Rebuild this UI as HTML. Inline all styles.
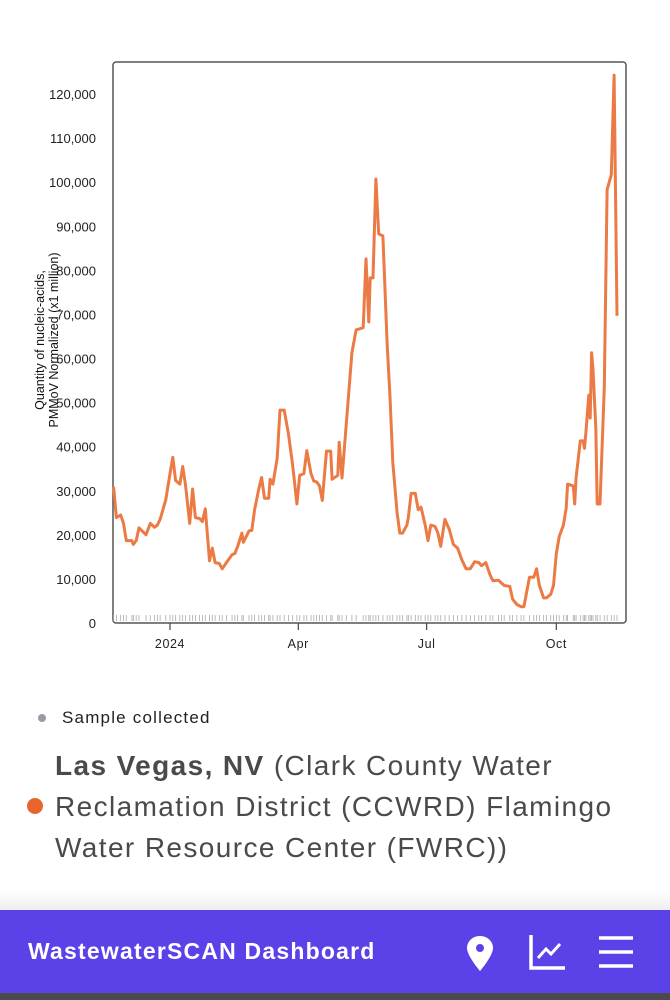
<!DOCTYPE html>
<html><head><meta charset="utf-8"><style>
body{margin:0;width:670px;height:1000px;background:#fff;font-family:"Liberation Sans",sans-serif;overflow:hidden;position:relative}
.abs{position:absolute}
</style></head><body>
<svg class="abs" style="left:0;top:0" width="670" height="700">
<g id="g"></g>
</svg>
<div class="abs" style="left:38px;top:714px;width:8px;height:8px;border-radius:50%;background:#9a9aa6"></div>
<div class="abs" style="left:62px;top:708px;font-size:17px;letter-spacing:1.2px;color:#222">Sample collected</div>
<div class="abs" style="left:27px;top:798px;width:16px;height:16px;border-radius:50%;background:#e8652c"></div>
<div class="abs" style="left:55px;top:745px;width:615px;font-size:28px;letter-spacing:1.4px;line-height:41px;color:#4a4a4a;white-space:nowrap"><b>Las Vegas, NV</b> (Clark County Water<br>Reclamation District (CCWRD) Flamingo<br>Water Resource Center (FWRC))</div>
<div class="abs" style="left:0;top:890px;width:670px;height:20px;background:linear-gradient(#fff,#eee)"></div>
<div class="abs" style="left:0;top:910px;width:670px;height:83px;background:#5a42e8"></div>
<div class="abs" style="left:0;top:993px;width:670px;height:7px;background:#4a4a4a"></div>
<div class="abs" style="left:28px;top:938px;font-size:23px;letter-spacing:1.2px;font-weight:bold;color:#fff">WastewaterSCAN Dashboard</div>
<svg class="abs" style="left:462px;top:932px" width="40" height="42"><path d="M18 4C10 4 5 10 5 16c0 8 13 23 13 23s13-15 13-23c0-6-5-12-13-12z" fill="#fff"/><circle cx="18" cy="16" r="4" fill="#5a42e8"/></svg>
<svg class="abs" style="left:528px;top:932px" width="40" height="40"><path d="M3 3V36H37" stroke="#fff" stroke-width="3.5" fill="none"/><path d="M10 26L18 17L23 22L32 12" stroke="#fff" stroke-width="3" fill="none"/></svg>
<svg class="abs" style="left:597px;top:935px" width="38" height="34"><path d="M2 3H36M2 17H36M2 31H36" stroke="#fff" stroke-width="3.5"/></svg>
<script>
const days=[-40,-38,-35,-33,-31,-27,-26,-24,-22,-17,-14,-11,-9,-7,-3,0,2,4,7,9,11,14,16,18,21,23,25,28,30,32,35,37,40,44,46,48,51,52,56,58,60,63,65,67,70,71,73,76,78,81,84,87,90,92,95,97,100,102,104,106,108,111,114,115,119,120,122,125,129,132,137,139,141,142,144,146,148,151,154,156,158,161,163,165,168,169,171,174,176,178,181,183,185,188,190,192,195,198,201,204,207,210,213,216,219,221,224,227,229,233,235,237,241,243,246,249,251,255,258,260,262,265,267,270,272,274,276,279,281,282,286,287,288,291,293,294,295,297,298,299,300,302,303,305,308,310,313,315,317];
const values=[30.9,23.9,24.5,22.6,18.7,18.7,17.8,18.7,21.6,20.0,22.6,21.7,22.2,23.5,28.0,33.9,37.6,32.3,31.5,35.5,31.3,22.6,30.4,23.9,23.7,23.0,25.9,14.1,17.0,13.7,13.5,12.3,13.7,15.5,15.8,17.4,20.4,18.3,20.9,21.0,25.7,30.4,33.0,28.3,28.3,32.6,31.5,37.4,48.3,48.3,43.0,35.7,27.0,33.5,33.9,39.1,33.9,32.2,32.0,31.1,27.8,39.0,39.0,32.6,33.5,41.0,32.9,45.2,61.3,66.5,67.0,82.6,68.3,78.3,78.3,100.7,88.3,87.8,63.5,51.3,36.5,25.2,20.4,20.4,22.2,23.9,29.4,29.4,25.7,26.3,22.2,18.7,22.2,21.9,20.4,17.4,23.5,21.3,17.8,17.0,14.3,12.3,12.3,13.9,13.7,13.0,13.7,10.9,9.6,9.7,9.1,8.5,8.3,5.4,4.2,3.7,3.7,10.4,10.4,12.3,8.5,5.7,5.7,6.5,8.5,15.7,19.6,22.2,26.1,31.5,31.1,27.0,33.0,41.3,41.3,39.6,43.5,51.7,46.5,61.3,57.6,44.3,27.0,27.0,53.5,98.3,101.7,124.3,69.7];
const yTicks=[0,10000,20000,30000,40000,50000,60000,70000,80000,90000,100000,110000,120000];
const xTickLabels=["2024","Apr","Jul","Oct"];
const xTickDays=[0,91,182,274];
const NS="http://www.w3.org/2000/svg";
const g=document.getElementById('g');
const X=d=>170+d*1.41;
const Y=v=>623-v/10000*44.08;
function el(t,a,txt){const e=document.createElementNS(NS,t);for(const k in a)e.setAttribute(k,a[k]);if(txt!==undefined)e.textContent=txt;g.appendChild(e);return e;}
const frame=el('rect',{x:113,y:62,width:513,height:561,rx:3,fill:'none',stroke:'#555','stroke-width':1.5});


yTicks.forEach(v=>{const t=el('text',{x:96,y:Y(v)+5,'text-anchor':'end','font-size':13,fill:'#222'},v.toLocaleString('en-US'));

});
xTickDays.forEach((d,i)=>{const l=el('line',{x1:X(d),x2:X(d),y1:623,y2:630,stroke:'#444','stroke-width':1.2});


const t=el('text',{x:X(d),y:648,'text-anchor':'middle','font-size':12.5,'letter-spacing':0.6,fill:'#222'},xTickLabels[i]);

});
days.forEach(d=>{const r=el('line',{x1:X(d),x2:X(d),y1:615,y2:621,stroke:'#aaa','stroke-width':0.8});

});
const tt=el('text',{transform:'translate(44,340) rotate(-90)','text-anchor':'middle','font-size':12.5,fill:'#111'});


const s1=document.createElementNS(NS,'tspan');s1.setAttribute('x',0);s1.setAttribute('y',0);s1.textContent='Quantity of nucleic-acids,';tt.appendChild(s1);
const s2=document.createElementNS(NS,'tspan');s2.setAttribute('x',0);s2.setAttribute('y',14);s2.textContent='PMMoV Normalized (x1 million)';tt.appendChild(s2);
const p=el('path',{d:days.map((d,i)=>(i?'L':'M')+X(d).toFixed(1)+' '+Y(values[i]*1000).toFixed(1)).join(''),fill:'none',stroke:'#ec7a45','stroke-width':3,'stroke-linejoin':'round'});


</script>
</body></html>
